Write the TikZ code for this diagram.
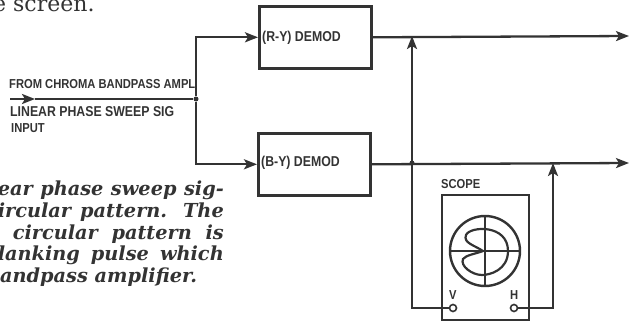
\documentclass[tikz,border=0pt]{standalone}
\usepackage{fontspec}
\setmainfont{DejaVu Serif}
\newfontfamily\lettering[FakeStretch=0.86]{Liberation Sans}
\usepackage{tikz}
\usetikzlibrary{arrows.meta, positioning, calc}
\definecolor{ink}{HTML}{333333}

\begin{document}
\begin{tikzpicture}[x=1pt, y=-1pt,
    demod/.style={draw=ink, line width=2.6pt, minimum width=112pt, minimum height=62pt, anchor=north west, inner sep=0pt},
    lbl/.style={font=\lettering\bfseries\fontsize{13}{14}\selectfont, text=ink, anchor=west, inner sep=0pt, align=left},
    biglbl/.style={lbl, font=\lettering\bfseries\fontsize{14.3}{15}\selectfont},
    caption/.style={font=\itshape\bfseries\fontsize{19.3}{21}\selectfont, text=ink, anchor=east, inner sep=0pt},
    arrow/.style={-{Stealth[length=13pt, width=10pt, inset=3pt]}, line width=2.3pt, draw=ink},
    wire/.style={line width=2.3pt, draw=ink},
    dot/.style={circle, fill=ink, minimum size=5pt, inner sep=0pt},
    jack/.style={circle, draw=ink, line width=1.6pt, fill=white, minimum size=7pt, inner sep=0pt}
]
    \useasboundingbox (0,0) rectangle (632,321);

    \node[font=\fontsize{22}{24}\selectfont, text=ink, anchor=base west, inner sep=0pt] (head) at (-7,12) {e screen.};

    \node[demod] (ry) at (258,5) {};
    \node[demod] (by) at (257,132) {};
    \node[biglbl] (rylbl) at (262,38) {(R-Y) DEMOD};
    \node[biglbl] (bylbl) at (261,163) {(B-Y) DEMOD};

    \coordinate (in) at (10,99);
    \coordinate (inhead) at (35,99);
    \node[dot] (junc) at (196,99) {};
    \coordinate (topout) at (629,36);
    \coordinate (botout) at (629,163);
    \coordinate (tapv) at (412,36);
    \coordinate (taph) at (553,163);
    \node[dot] (cross) at (412,163) {};

    \node[lbl] (from) at (9,84) {FROM CHROMA BANDPASS AMPL};
    \node[biglbl] (sweep) at (10,112) {LINEAR PHASE SWEEP SIG};
    \node[lbl] (input) at (11,128) {INPUT};

    \node[caption] (c1) at (224,190) {\makebox[226pt][s]{ear phase sweep sig-}};
    \node[caption] (c2) at (224,212) {\makebox[226pt][s]{ircular pattern. The}};
    \node[caption] (c3) at (224,234) {\makebox[211pt][s]{circular pattern is}};
    \node[caption] (c4) at (224,255) {\makebox[226pt][s]{lanking pulse which}};
    \node[caption, anchor=west] (c5) at (0,277) {andpass amplifier.};

    % scope
    \node[lbl] (scopelbl) at (441,184) {SCOPE};
    \node[draw=ink, line width=2.2pt, minimum width=87pt, minimum height=125pt, anchor=north west, inner sep=0pt] (scope) at (441,194) {};
    \node[circle, draw=ink, line width=2.4pt, minimum size=70pt, inner sep=0pt] (tube) at (485,251) {};
    \draw[line width=1.2pt, draw=ink] (tube.north) -- (tube.south);
    \draw[line width=1.2pt, draw=ink] (tube.west) -- (tube.east);
    \draw[line width=2.2pt, draw=ink] (483,251)
        .. controls (474,245) and (463,243) .. (466,235)
        .. controls (470,226) and (508,224) .. (508,251)
        .. controls (508,270) and (490,275) .. (482,275)
        .. controls (472,275) and (460,266) .. (463,259)
        .. controls (466,255) and (475,254) .. (483,251);
    \node[lbl] (vlbl) at (449,295) {V};
    \node[lbl] (hlbl) at (510,295) {H};
    \node[jack] (vjack) at (453,308) {};
    \node[jack] (hjack) at (514,308) {};

    \draw[arrow] (in) -- (inhead);
    \draw[wire] (inhead) -- (junc);
    \draw[arrow] (junc) |- (ry.west);
    \draw[arrow] (junc) |- (by.west);
    \draw[arrow] (ry.east) -- (topout);
    \draw[arrow] (by.east) -- (botout);
    \draw[arrow] (vjack) -| (tapv);
    \draw[arrow] (hjack) -| (taph);
\end{tikzpicture}
\end{document}
